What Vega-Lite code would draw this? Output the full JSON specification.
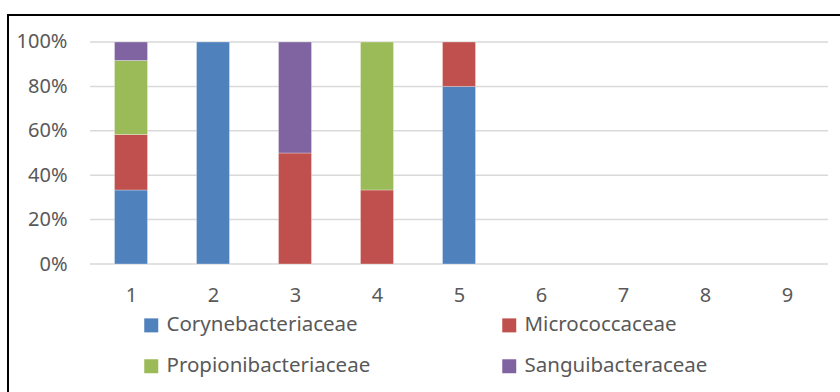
{
  "$schema": "https://vega.github.io/schema/vega-lite/v6.json",
  "autosize": {"type": "none"},
  "width": 833,
  "height": 378,
  "padding": {"left": 8, "top": 15, "right": -1, "bottom": -1},
  "background": "white",
  "config": {
    "view": {"stroke": "#000000", "strokeWidth": 2},
    "font": "Noto Sans",
    "axis": {
      "labelFont": "Noto Sans",
      "labelFontSize": 20,
      "labelColor": "#595959",
      "domain": false,
      "ticks": false,
      "tickSize": 0,
      "grid": false,
      "title": null
    },
    "legend": {
      "labelFont": "Noto Sans",
      "labelFontSize": 20.5,
      "labelColor": "#595959",
      "labelLimit": 400,
      "symbolType": "square",
      "symbolSize": 196,
      "symbolStrokeWidth": 0,
      "labelOffset": 5,
      "padding": 0
    }
  },
  "layer": [
    {
      "data": {"values": [{"g": 0}, {"g": 0.2}, {"g": 0.4}, {"g": 0.6}, {"g": 0.8}, {"g": 1}]},
      "mark": {"type": "rule", "color": "#d9d9d9", "strokeWidth": 1.5},
      "encoding": {
        "x": {"datum": 0.5, "type": "quantitative",
              "scale": {"domain": [-0.5, 9.65854], "nice": false, "zero": false, "padding": 0},
              "axis": {"values": [1, 2, 3, 4, 5, 6, 7, 8, 9], "format": "d", "offset": -129, "labelPadding": 21}},
        "x2": {"datum": 9.5},
        "y": {"field": "g", "type": "quantitative",
              "scale": {"domain": [-0.58108, 1.12162], "nice": false, "zero": false, "padding": 0},
              "axis": {"values": [0, 0.2, 0.4, 0.6, 0.8, 1], "format": ".0%", "offset": -59, "labelPadding": 0}}
      }
    },
    {
      "data": {
        "values": [
          {"sample": 1, "family": "Corynebacteriaceae", "count": 4},
          {"sample": 1, "family": "Micrococcaceae", "count": 3},
          {"sample": 1, "family": "Propionibacteriaceae", "count": 4},
          {"sample": 1, "family": "Sanguibacteraceae", "count": 1},
          {"sample": 2, "family": "Corynebacteriaceae", "count": 1},
          {"sample": 3, "family": "Micrococcaceae", "count": 1},
          {"sample": 3, "family": "Sanguibacteraceae", "count": 1},
          {"sample": 4, "family": "Micrococcaceae", "count": 1},
          {"sample": 4, "family": "Propionibacteriaceae", "count": 2},
          {"sample": 5, "family": "Corynebacteriaceae", "count": 4},
          {"sample": 5, "family": "Micrococcaceae", "count": 1}
        ]
      },
      "mark": {"type": "bar", "size": 33, "stroke": "#ffffff", "strokeWidth": 0.5, "strokeOpacity": 0.6},
      "encoding": {
        "x": {"field": "sample", "type": "quantitative",
              "scale": {"domain": [-0.5, 9.65854], "nice": false, "zero": false, "padding": 0},
              "axis": {"values": [1, 2, 3, 4, 5, 6, 7, 8, 9], "format": "d", "offset": -129, "labelPadding": 21}},
        "y": {"field": "count", "type": "quantitative", "stack": "normalize",
              "scale": {"domain": [-0.58108, 1.12162], "nice": false, "zero": false, "padding": 0},
              "axis": {"values": [0, 0.2, 0.4, 0.6, 0.8, 1], "format": ".0%", "offset": -59, "labelPadding": 0}},
        "order": {"field": "family", "sort": "ascending"},
        "color": {
          "field": "family",
          "type": "nominal",
          "scale": {
            "domain": ["Corynebacteriaceae", "Micrococcaceae", "Propionibacteriaceae", "Sanguibacteraceae"],
            "range": ["#4f81bd", "#c0504d", "#9bbb59", "#8064a2"]
          },
          "legend": {
            "title": null,
            "orient": "none",
            "legendX": 133,
            "legendY": 300,
            "direction": "horizontal",
            "columns": 2,
            "columnPadding": 128,
            "rowPadding": 20
          }
        }
      }
    }
  ]
}
